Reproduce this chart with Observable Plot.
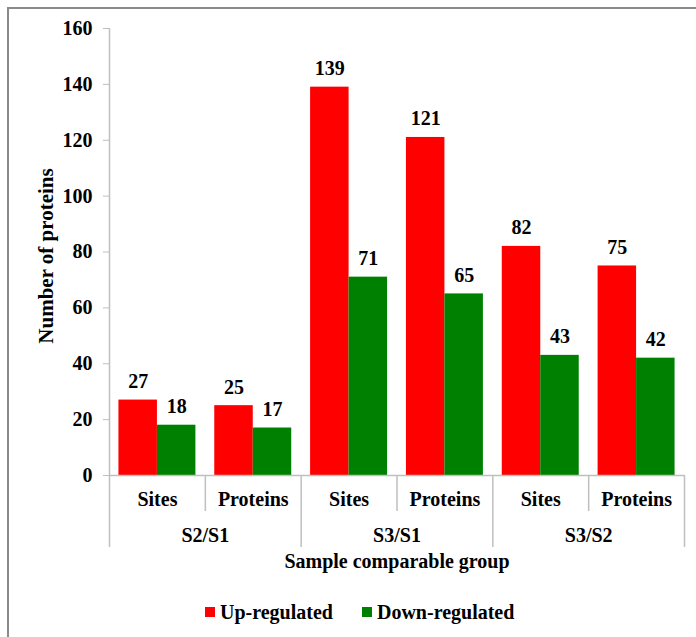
<!DOCTYPE html>
<html>
<head>
<meta charset="utf-8">
<script src="https://cdn.jsdelivr.net/npm/d3@7"></script>
<script src="https://cdn.jsdelivr.net/npm/@observablehq/plot@0.6"></script>
<style>
html, body { margin: 0; padding: 0; background: #fff; }
body { width: 696px; height: 637px; overflow: hidden; position: relative;
  font-family: "Liberation Serif", "Times New Roman", serif; font-weight: bold; }
#border { position: absolute; left: 7px; top: 7px; width: 740px; height: 740px;
  border: 2px solid #8a8a8a; box-sizing: border-box; }
#chart { position: absolute; left: 0; top: 0; }
#legend { position: absolute; left: 0; top: 590px; width: 696px; height: 47px; }
#legend .row { display: flex; align-items: center; height: 24px; margin-top: 10px; padding-left: 205px; }
#legend .item { display: flex; align-items: center; font-size: 20px; color: #000; margin-right: 29px; }
#legend .sw { width: 10px; height: 10px; margin-right: 5px; }
</style>
</head>
<body>
<div id="border"></div>
<div id="chart"></div>
<div id="legend"><div class="row"></div></div>
<script>
// ---- data ----
const groups = ["S2/S1", "S3/S1", "S3/S2"];
const subs = ["Sites", "Proteins"];
const series = ["Up-regulated", "Down-regulated"];
const upValues = [27, 25, 139, 121, 82, 75];
const downValues = [18, 17, 71, 65, 43, 42];
const yTicks = [0, 20, 40, 60, 80, 100, 120, 140, 160];
const xTitle = "Sample comparable group";
const yTitle = "Number of proteins";
const colors = ["#ff0000", "#008000"];

// ---- layout ----
const W = 696, H = 590, mt = 28, mb = 115, ml = 109, mr = 12;
const innerH = H - mt - mb;
const gray = "#bfbfbf";

const keys = groups.flatMap(g => subs.map(s => g + " " + s));
const facetW = (W - ml - mr) / keys.length;
const rows = keys.flatMap((k, i) => [
  {key: k, series: series[0], value: upValues[i]},
  {key: k, series: series[1], value: downValues[i]}
]);
const groupRows = groups.map((g, i) => ({group: g, key: keys[2 * i + 1]}));
const rf = d => d;

const chart = Plot.plot({
  width: W, height: H,
  marginTop: mt, marginBottom: mb, marginLeft: ml, marginRight: mr,
  style: {fontFamily: "'Liberation Serif', 'Times New Roman', serif", fontSize: "20px",
          fontWeight: "bold", color: "#000", background: "transparent"},
  fx: {domain: keys, padding: 0, round: false, label: null, axis: null},
  x: {domain: series, paddingInner: 0, paddingOuter: 0.245, round: false, axis: null},
  y: {domain: [0, 160], axis: null},
  color: {domain: series, range: colors},
  marks: [
    Plot.barY(rows, {fx: "key", x: "series", y: "value", fill: "series"}),
    Plot.text(rows, {fx: "key", x: "series", y: "value", text: d => String(d.value),
      lineAnchor: "bottom", dy: -12, fill: "#000"}),
    Plot.ruleY([0], {stroke: gray, strokeWidth: 1.5}),
    Plot.ruleX([keys[0]], {fx: rf, x: null, dx: -facetW / 2, stroke: gray, strokeWidth: 1.5}),
    Plot.ruleX(keys.filter((k, i) => i % 2 === 0), {fx: rf, x: null, dx: -facetW / 2,
      insetTop: innerH, insetBottom: -72, stroke: gray, strokeWidth: 1.5}),
    Plot.ruleX(keys.filter((k, i) => i % 2 === 1), {fx: rf, x: null, dx: -facetW / 2,
      insetTop: innerH, insetBottom: -36, stroke: gray, strokeWidth: 1.5}),
    Plot.ruleX([keys[keys.length - 1]], {fx: rf, x: null, dx: facetW / 2,
      insetTop: innerH, insetBottom: -72, stroke: gray, strokeWidth: 1.5}),
    Plot.axisY({ticks: yTicks, tickSize: 6, tickPadding: 11, stroke: gray, fill: "#000",
      label: null, tickFormat: d => String(d)}),
    Plot.axisFx({anchor: "bottom", tickSize: 0, tickPadding: 16, label: null,
      tickFormat: k => k.split(" ")[1], fill: "#000"}),
    Plot.text(groupRows, {fx: "key", text: "group", frameAnchor: "bottom-left", dy: 60,
      lineAnchor: "middle", textAnchor: "middle", fill: "#000"}),
    Plot.text([xTitle], {facet: "super", frameAnchor: "bottom", dy: 86, lineAnchor: "middle",
      textAnchor: "middle", fill: "#000"}),
    Plot.text([yTitle], {facet: "super", frameAnchor: "left", rotate: -90, dx: -63, dy: 4,
      lineAnchor: "middle", textAnchor: "middle", fontSize: 21, fill: "#000"})
  ]
});
document.getElementById("chart").appendChild(chart);

// ---- legend ----
const row = document.querySelector("#legend .row");
series.forEach((s, i) => {
  const item = document.createElement("div");
  item.className = "item";
  const sw = document.createElement("div");
  sw.className = "sw";
  sw.style.background = colors[i];
  const t = document.createElement("span");
  t.textContent = s;
  item.appendChild(sw);
  item.appendChild(t);
  row.appendChild(item);
});
</script>
</body>
</html>
